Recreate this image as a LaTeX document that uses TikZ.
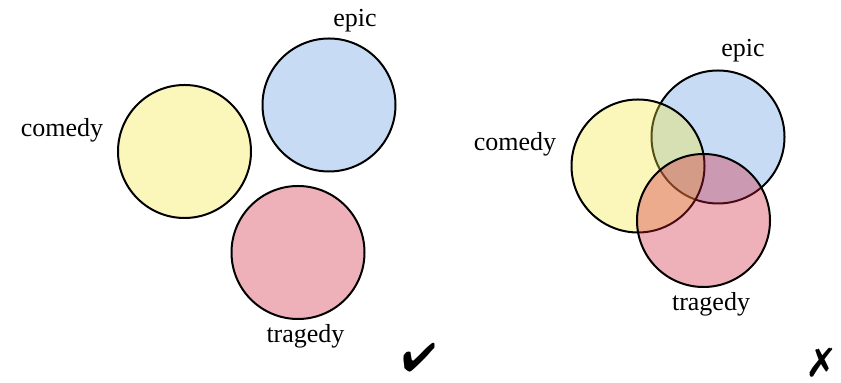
\documentclass[tikz,border=0pt]{standalone}
\usepackage{fontspec}
\setmainfont{Liberation Serif}
\usepackage{pifont}
\definecolor{comedyfill}{RGB}{244,232,58}
\definecolor{epicfill}{RGB}{95,155,224}
\definecolor{tragedyfill}{RGB}{209,32,55}

\begin{document}
\begin{tikzpicture}[
        x=0.5pt, y=-0.5pt,
        genre/.style={circle, draw, line width=1pt, minimum size=66.5pt, inner sep=0pt, fill opacity=0.35},
        comedyset/.style={genre, fill=comedyfill},
        epicset/.style={genre, fill=epicfill},
        tragedyset/.style={genre, fill=tragedyfill},
        lbl/.style={font=\fontsize{13}{15}\selectfont, anchor=base, inner sep=0pt},
        verdict/.style={font=\fontsize{20}{20}\selectfont, anchor=base, inner sep=0pt},
    ]
    \useasboundingbox (0, 0) rectangle (841, 383);
    % disjoint genres
    \node[epicset]    (epicA)    at (329, 105)     {};
    \node[comedyset]  (comedyA)  at (184.5, 151.5) {};
    \node[tragedyset] (tragedyA) at (298, 252.5)   {};
    \node[lbl] (comedyAlbl)  at (62, 137)    {comedy};
    \node[lbl] (epicAlbl)    at (355, 27)    {epic};
    \node[lbl] (tragedyAlbl) at (305.5, 343) {tragedy};
    \node[verdict] (yes) at (419, 372) {\ding{52}};
    % overlapping genres
    \node[epicset]    (epicB)    at (718, 137)   {};
    \node[comedyset]  (comedyB)  at (638, 166)   {};
    \node[tragedyset] (tragedyB) at (703.5, 220.5) {};
    \node[lbl] (comedyBlbl)  at (515, 150.5) {comedy};
    \node[lbl] (epicBlbl)    at (743, 57)    {epic};
    \node[lbl] (tragedyBlbl) at (711, 310.5) {tragedy};
    \node[verdict] (no) at (821, 375) {\ding{55}};
\end{tikzpicture}
\end{document}
